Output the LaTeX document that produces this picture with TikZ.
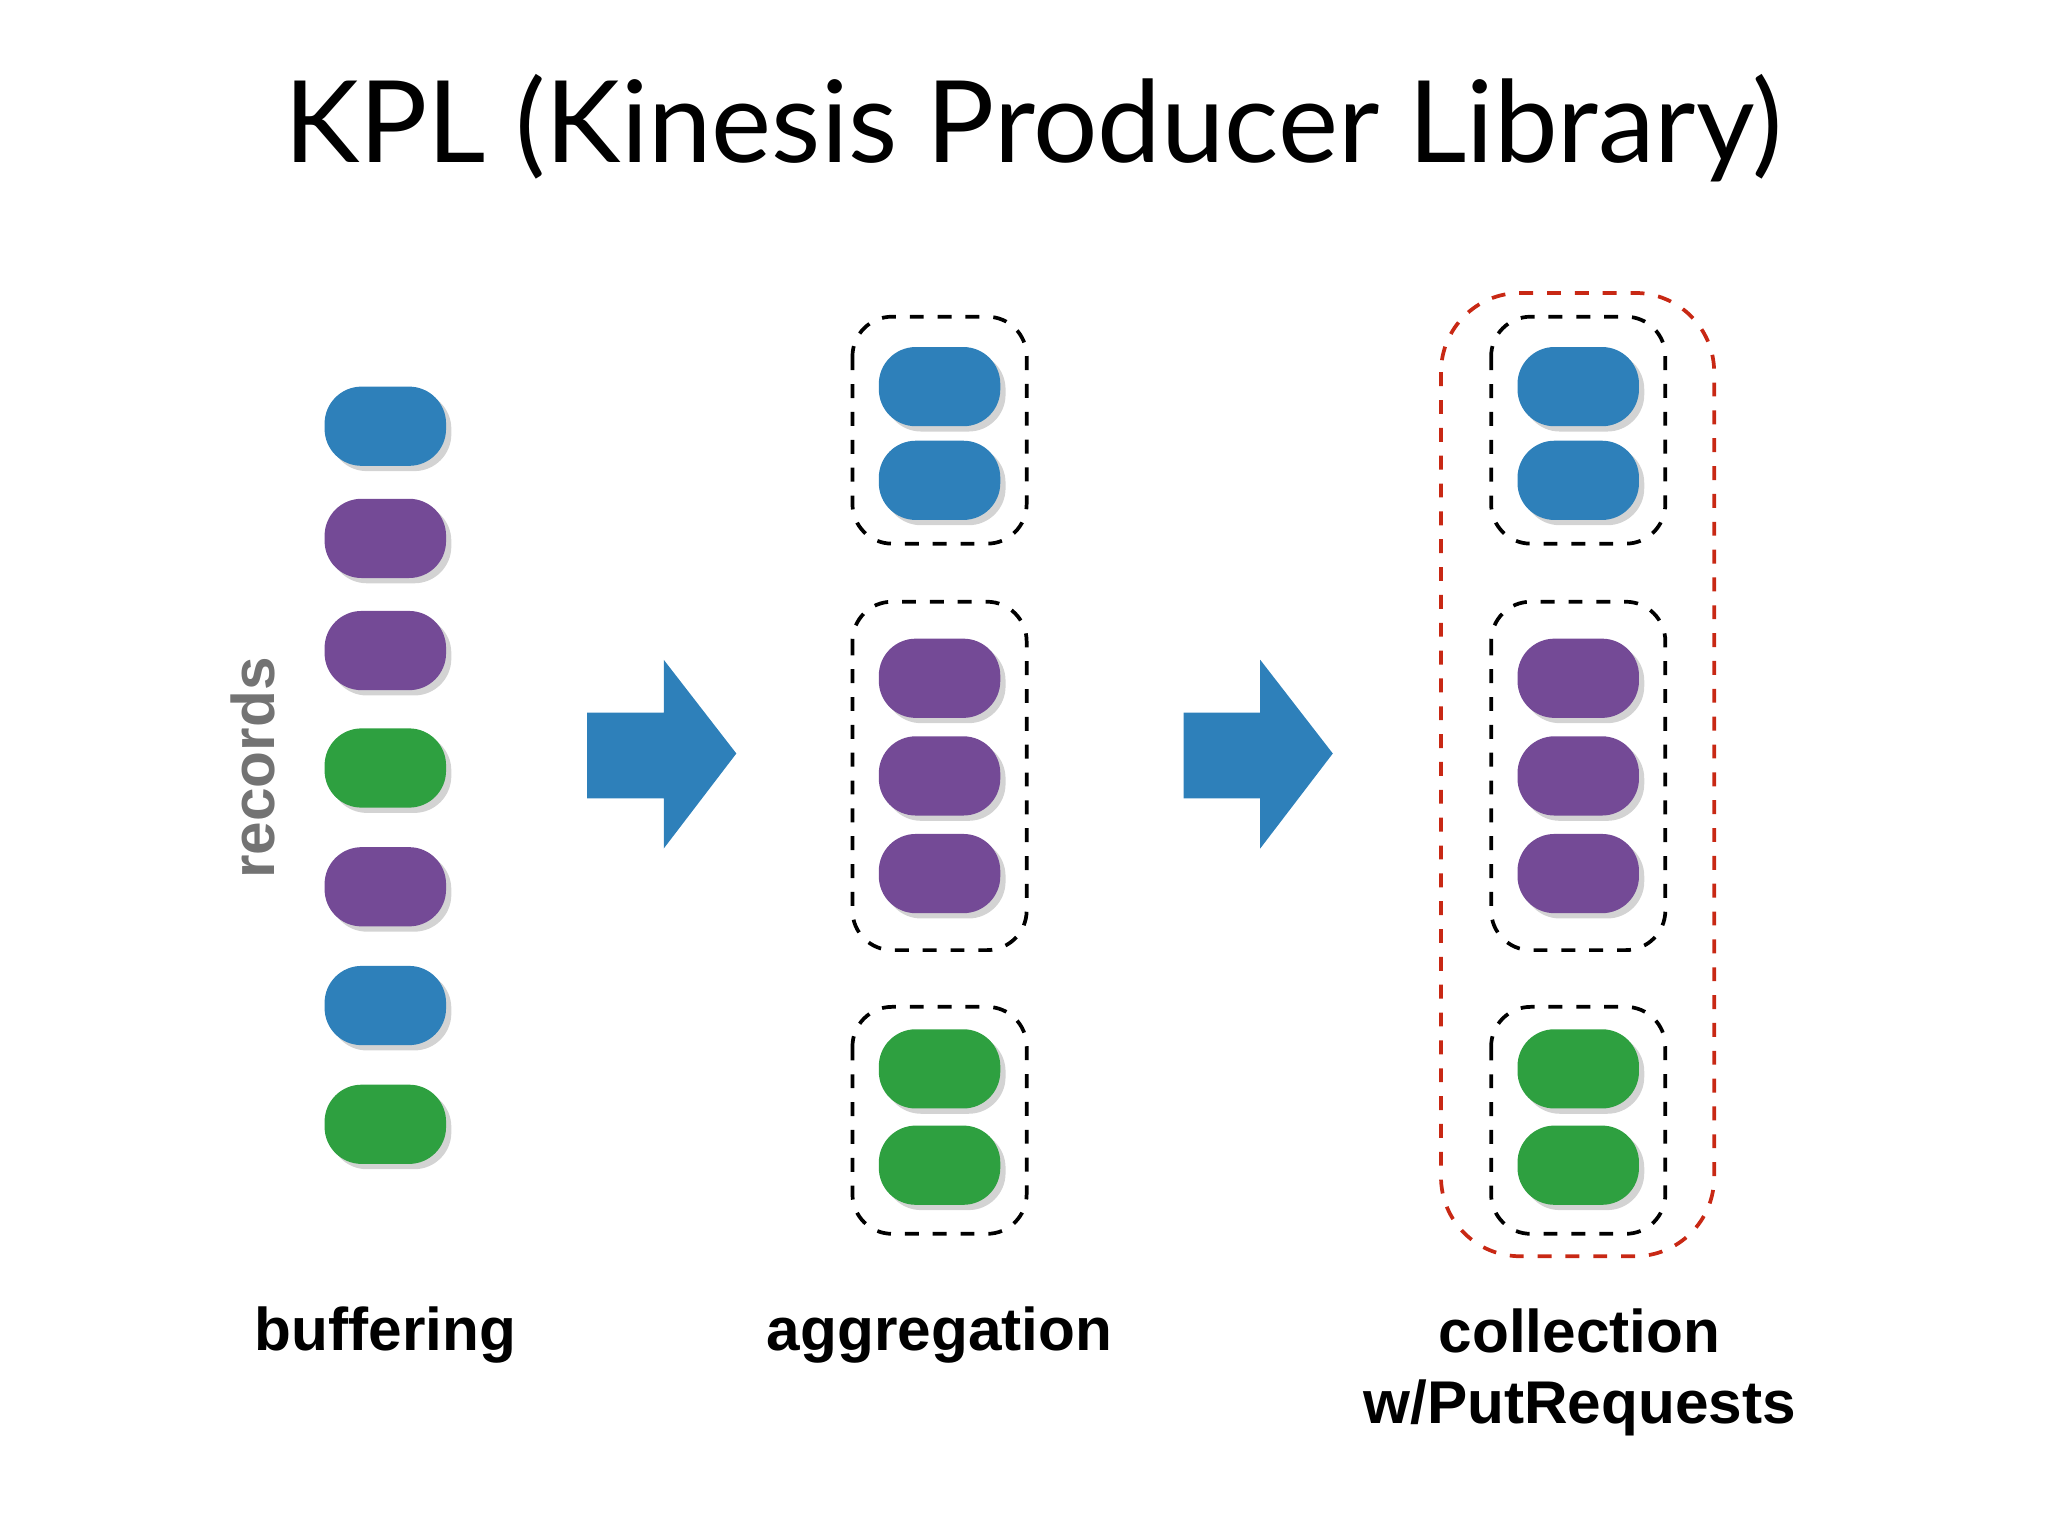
\documentclass[tikz,border=0pt]{standalone}
\usepackage{fontspec}
\setmainfont{Liberation Sans}
\newfontfamily\titlefont{Lato}
\usetikzlibrary{positioning,shadows}
\definecolor{recblue}{RGB}{46,128,186}
\definecolor{recpurple}{RGB}{116,74,150}
\definecolor{recgreen}{RGB}{46,160,64}
\definecolor{redline}{RGB}{200,40,20}
\tikzstyle{rec} = [rectangle, rounded corners=0.28cm, minimum width=0.92cm,
    minimum height=0.6cm, inner sep=0pt, drop shadow={opacity=0.35, shadow xshift=0.04cm, shadow yshift=-0.04cm}]
\tikzstyle{agg} = [draw=black, dashed, thick, rounded corners=0.3cm]
\tikzstyle{coll} = [draw=redline, dashed, thick, rounded corners=0.6cm]
\tikzstyle{caption} = [font=\bfseries\fontsize{13}{15.5}\selectfont, align=center]

\begin{document}
\begin{tikzpicture}[x=0.01cm, y=-0.01cm]
    \useasboundingbox (0,0) rectangle (1552,1164);
    \node (title) at (783,97) {\titlefont\fontsize{24.5}{28}\selectfont KPL (Kinesis Producer Library)};

    % buffering
    \node (b1) [rec, fill=recblue] at (292,323) {};
    \node (b2) [rec, fill=recpurple] at (292,408) {};
    \node (b3) [rec, fill=recpurple] at (292,493) {};
    \node (b4) [rec, fill=recgreen] at (292,582) {};
    \node (b5) [rec, fill=recpurple] at (292,672) {};
    \node (b6) [rec, fill=recblue] at (292,762) {};
    \node (b7) [rec, fill=recgreen] at (292,852) {};
    \node (records) [rotate=90, text=gray!90!black, font=\bfseries\fontsize{13}{15}\selectfont] at (192,582) {records};

    % arrows
    \foreach \x in {445, 897} {
        \fill [recblue] (\x,540) -- (\x+58,540) -- (\x+58,500) -- (\x+113,571)
            -- (\x+58,643) -- (\x+58,605) -- (\x,605) -- cycle;
    }

    % aggregation and collection
    \foreach \x/\n in {712/a, 1196/c} {
        \node (\n1) [rec, fill=recblue] at (\x,293) {};
        \node (\n2) [rec, fill=recblue] at (\x,364) {};
        \node (\n3) [rec, fill=recpurple] at (\x,514) {};
        \node (\n4) [rec, fill=recpurple] at (\x,588) {};
        \node (\n5) [rec, fill=recpurple] at (\x,662) {};
        \node (\n6) [rec, fill=recgreen] at (\x,810) {};
        \node (\n7) [rec, fill=recgreen] at (\x,883) {};
        \draw [agg] (\x-66,240) rectangle (\x+66,412);
        \draw [agg] (\x-66,456) rectangle (\x+66,720);
        \draw [agg] (\x-66,763) rectangle (\x+66,935);
    }
    \draw [coll] (1092,222) rectangle (1299,952);

    % captions
    \node (buf) [caption] at (292,1012) {buffering};
    \node (aggl) [caption] at (712,1012) {aggregation};
    \node (coll) [caption] at (1197,1040) {collection\\w/PutRequests};
\end{tikzpicture}
\end{document}
